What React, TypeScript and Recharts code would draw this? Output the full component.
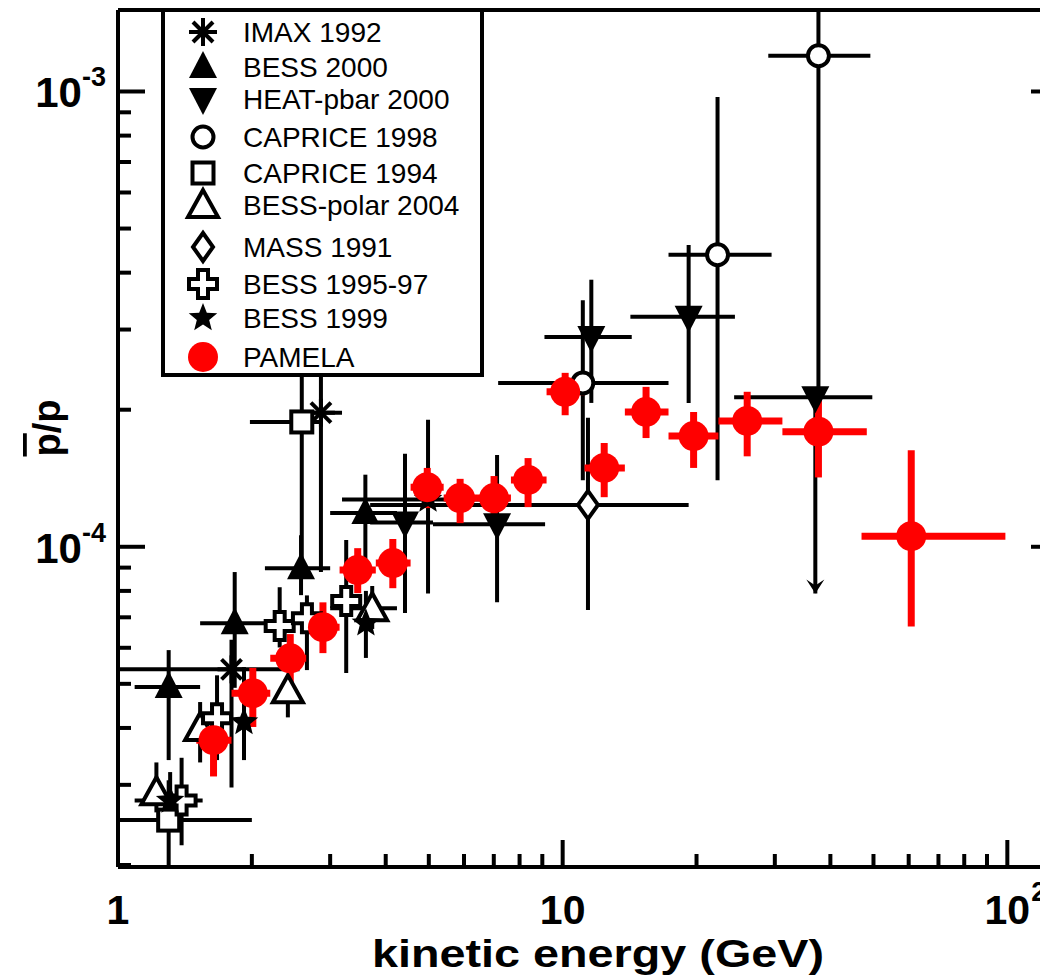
import React from "react";
import { ScatterChart, Scatter, XAxis, YAxis, ErrorBar, Legend } from "recharts";

// each point: [E, E low, E high, ratio, ratio low, ratio high]
type Pt = [number, number, number, number, number, number];

const imax1992: Pt[] = [
  [1.8, 1.0, 2.56, 5.38e-5, 2.96e-5, 6.25e-5],
  [2.86, 2.44, 3.19, 1.97e-4, 8.8e-5, 3.5e-4],
];
const bess2000: Pt[] = [
  [1.3, 1.09, 1.53, 4.92e-5, 3.4e-5, 5.93e-5],
  [1.83, 1.53, 2.16, 6.79e-5, 4.9e-5, 8.8e-5],
  [2.58, 2.14, 3.0, 8.97e-5, 7.83e-5, 1.06e-4],
  [3.6, 3.0, 4.24, 1.186e-4, 9.36e-5, 1.44e-4],
];
const heat2000: Pt[] = [
  [4.42, 3.69, 5.11, 1.13e-4, 7.15e-5, 1.6e-4],
  [7.12, 5.11, 9.13, 1.12e-4, 7.55e-5, 1.59e-4],
  [11.6, 9.1, 14.3, 2.89e-4, 2.07e-4, 3.86e-4],
  [19.2, 14.2, 24.4, 3.2e-4, 2.07e-4, 4.6e-4],
  [37.0, 24.3, 49.7, 2.13e-4, 7.9e-5, 2.13e-4],
];
const heatLimit = [{ e: 37.0, r: 7.9e-5 }];
const caprice1998: Pt[] = [
  [11.1, 7.16, 17.3, 2.29e-4, 1.4e-4, 3.48e-4],
  [22.3, 17.3, 29.5, 4.38e-4, 1.4e-4, 9.73e-4],
  [37.6, 29.0, 49.2, 1.198e-3, 2.1e-4, 1.51e-3],
];
const caprice1994: Pt[] = [
  [1.3, 1.0, 2.0, 2.51e-5, 1.98e-5, 3.07e-5],
  [2.59, 1.98, 2.85, 1.88e-4, 9.3e-5, 4e-4],
];
const bessPolar2004: Pt[] = [
  [1.22, 1.22, 1.22, 2.89e-5, 2.61e-5, 3.36e-5],
  [1.53, 1.53, 1.53, 4.0e-5, 3.36e-5, 4.56e-5],
  [2.41, 2.41, 2.41, 4.84e-5, 4.22e-5, 5.19e-5],
  [3.73, 3.0, 4.24, 7.33e-5, 6.6e-5, 8.2e-5],
];
const mass1991: Pt[] = [[11.4, 3.69, 19.2, 1.236e-4, 7.26e-5, 1.92e-4]];
const bess9597: Pt[] = [
  [1.39, 1.09, 1.55, 2.77e-5, 2.21e-5, 3.44e-5],
  [1.67, 1.67, 1.67, 4.2e-5, 3.4e-5, 5.22e-5],
  [2.31, 2.31, 2.31, 6.7e-5, 6.01e-5, 8.15e-5],
  [2.66, 2.66, 2.66, 6.97e-5, 5.36e-5, 7.82e-5],
  [3.26, 3.26, 3.26, 7.6e-5, 5.28e-5, 1.035e-4],
];
const bess1999: Pt[] = [
  [1.31, 1.31, 1.31, 2.77e-5, 2.4e-5, 3.2e-5],
  [1.92, 1.92, 1.92, 4.12e-5, 3.4e-5, 5.44e-5],
  [3.61, 3.61, 3.61, 6.79e-5, 5.7e-5, 8.0e-5],
  [4.98, 3.19, 7.6, 1.27e-4, 7.9e-5, 1.9e-4],
];
const pamela: Pt[] = [
  [1.64, 1.5, 1.8, 3.76e-5, 3.13e-5, 4.33e-5],
  [2.01, 1.8, 2.2, 4.77e-5, 4.02e-5, 5.42e-5],
  [2.44, 2.2, 2.65, 5.69e-5, 4.91e-5, 6.43e-5],
  [2.89, 2.65, 3.15, 6.66e-5, 5.84e-5, 7.55e-5],
  [3.46, 3.15, 3.8, 8.89e-5, 7.91e-5, 9.93e-5],
  [4.15, 3.8, 4.55, 9.21e-5, 8.11e-5, 1.04e-4],
  [4.96, 4.55, 5.4, 1.352e-4, 1.216e-4, 1.49e-4],
  [5.88, 5.4, 6.45, 1.279e-4, 1.127e-4, 1.41e-4],
  [7.01, 6.45, 7.65, 1.279e-4, 1.116e-4, 1.43e-4],
  [8.36, 7.65, 9.2, 1.402e-4, 1.222e-4, 1.566e-4],
  [10.13, 9.2, 11.2, 2.19e-4, 1.945e-4, 2.41e-4],
  [12.4, 11.2, 13.8, 1.49e-4, 1.285e-4, 1.69e-4],
  [15.4, 13.8, 17.3, 1.977e-4, 1.733e-4, 2.245e-4],
  [19.7, 17.3, 22.4, 1.75e-4, 1.49e-4, 1.977e-4],
  [26.0, 22.4, 31.2, 1.89e-4, 1.58e-4, 2.19e-4],
  [37.6, 31.2, 48.3, 1.79e-4, 1.42e-4, 2.13e-4],
  [60.8, 47.0, 99.0, 1.055e-4, 6.68e-5, 1.63e-4],
];

const xTicks = [1, 2, 3, 4, 5, 6, 7, 8, 9, 10, 20, 30, 40, 50, 60, 70, 80, 90, 100];
const yTicks = [
  2e-5, 3e-5, 4e-5, 5e-5, 6e-5, 7e-5, 8e-5, 9e-5,
  1e-4, 2e-4, 3e-4, 4e-4, 5e-4, 6e-4, 7e-4, 8e-4, 9e-4, 1e-3,
];
const xMajor = [1, 10, 100];
const yMajor = [1e-4, 1e-3];

const series = [
  { name: "IMAX 1992", kind: "asterisk", pts: imax1992 },
  { name: "BESS 2000", kind: "triUp", pts: bess2000 },
  { name: "HEAT-pbar 2000", kind: "triDown", pts: heat2000 },
  { name: "CAPRICE 1998", kind: "circle", pts: caprice1998 },
  { name: "CAPRICE 1994", kind: "square", pts: caprice1994 },
  { name: "BESS-polar 2004", kind: "triOpen", pts: bessPolar2004 },
  { name: "MASS 1991", kind: "diamond", pts: mass1991 },
  { name: "BESS 1995-97", kind: "plus", pts: bess9597 },
  { name: "BESS 1999", kind: "star", pts: bess1999 },
  { name: "PAMELA", kind: "dot", pts: pamela },
];

const FONT = "'Liberation Sans', Arial, Helvetica, sans-serif";

const toRows = (pts: Pt[]) =>
  pts.map(([e, eLo, eHi, r, rLo, rHi]) => ({
    e,
    r,
    ex: [e - eLo, eHi - e],
    ey: [r - rLo, rHi - r],
  }));

function Marker({ kind, cx, cy }: { kind: string; cx: number; cy: number }) {
  const k = "#000";
  switch (kind) {
    case "asterisk": {
      const r = 14;
      const d = 10;
      return (
        <g stroke={k} strokeWidth={4}>
          <line x1={cx - r} y1={cy} x2={cx + r} y2={cy} />
          <line x1={cx} y1={cy - r} x2={cx} y2={cy + r} />
          <line x1={cx - d} y1={cy - d} x2={cx + d} y2={cy + d} />
          <line x1={cx - d} y1={cy + d} x2={cx + d} y2={cy - d} />
        </g>
      );
    }
    case "triUp":
      return <polygon points={`${cx},${cy - 16} ${cx - 14},${cy + 11} ${cx + 14},${cy + 11}`} fill={k} />;
    case "triDown":
      return <polygon points={`${cx},${cy + 16} ${cx - 14},${cy - 11} ${cx + 14},${cy - 11}`} fill={k} />;
    case "circle":
      return <circle cx={cx} cy={cy} r={10.5} fill="#fff" stroke={k} strokeWidth={4} />;
    case "square":
      return <rect x={cx - 10.5} y={cy - 10.5} width={21} height={21} fill="#fff" stroke={k} strokeWidth={4} />;
    case "triOpen":
      return (
        <polygon
          points={`${cx},${cy - 15} ${cx - 15},${cy + 12} ${cx + 15},${cy + 12}`}
          fill="#fff"
          stroke={k}
          strokeWidth={4}
        />
      );
    case "diamond":
      return (
        <polygon
          points={`${cx},${cy - 14} ${cx + 10},${cy} ${cx},${cy + 14} ${cx - 10},${cy}`}
          fill="#fff"
          stroke={k}
          strokeWidth={4}
        />
      );
    case "plus": {
      const a = 5;
      const r = 14;
      const p = [
        [-a, -r], [a, -r], [a, -a], [r, -a], [r, a], [a, a],
        [a, r], [-a, r], [-a, a], [-r, a], [-r, -a], [-a, -a],
      ]
        .map(([x, y]) => `${cx + x},${cy + y}`)
        .join(" ");
      return <polygon points={p} fill="#fff" stroke={k} strokeWidth={4} />;
    }
    case "star": {
      const pts: string[] = [];
      for (let i = 0; i < 10; i++) {
        const rad = i % 2 === 0 ? 15 : 6.5;
        const ang = -Math.PI / 2 + (i * Math.PI) / 5;
        pts.push(`${cx + rad * Math.cos(ang)},${cy + rad * Math.sin(ang)}`);
      }
      return <polygon points={pts.join(" ")} fill={k} />;
    }
    case "dot":
      return <circle cx={cx} cy={cy} r={15} fill="#ff0000" />;
    case "arrow":
      return <polygon points={`${cx},${cy} ${cx - 9},${cy - 14} ${cx},${cy - 8} ${cx + 9},${cy - 14}`} fill={k} />;
    default:
      return null;
  }
}

const legendRowsY = [24, 59, 91, 129, 165, 197, 239, 276, 310, 349];

function LegendBox() {
  return (
    <svg width={323} height={369} style={{ display: "block" }}>
      <rect x={2} y={2} width={319} height={365} fill="#fff" stroke="#000" strokeWidth={4} />
      {series.map((s, i) => {
        const y = legendRowsY[i];
        return (
          <g key={s.name}>
            <Marker kind={s.kind} cx={42} cy={y} />
            <text x={82} y={y + 10} fontSize={28} fontFamily={FONT} fill="#000">
              {s.name}
            </text>
          </g>
        );
      })}
    </svg>
  );
}

function BottomTick({ x, y, payload }: any) {
  const v = payload.value;
  const major = xMajor.includes(v);
  return (
    <g>
      <line x1={x} x2={x} y1={y} y2={y - (major ? 27 : 13)} stroke="#000" strokeWidth={4} />
      {major && (
        <text x={x} y={y + 57} textAnchor="middle" fontSize={41} fontWeight="bold" fontFamily={FONT} fill="#000">
          {v === 1 ? "1" : "10"}
        </text>
      )}
      {v === 100 && (
        <text x={x + 24} y={y + 34} fontSize={27} fontWeight="bold" fontFamily={FONT} fill="#000">
          2
        </text>
      )}
    </g>
  );
}

function TopTick({ x, y, payload }: any) {
  const major = xMajor.includes(payload.value);
  return <line x1={x} x2={x} y1={y} y2={y + (major ? 27 : 13)} stroke="#000" strokeWidth={4} />;
}

function LeftTick({ x, y, payload }: any) {
  const v = payload.value;
  const major = yMajor.includes(v);
  return (
    <g>
      <line x1={x} x2={x + (major ? 27 : 13)} y1={y} y2={y} stroke="#000" strokeWidth={4} />
      {major && (
        <text x={x - 12} y={y + 16} textAnchor="end" fontSize={42} fontWeight="bold" fontFamily={FONT} fill="#000">
          10
          <tspan dy={-21} fontSize={27}>
            {v === 1e-3 ? "-3" : "-4"}
          </tspan>
        </text>
      )}
    </g>
  );
}

function RightTick({ x, y, payload }: any) {
  const major = yMajor.includes(payload.value);
  return <line x1={x} x2={x - (major ? 27 : 13)} y1={y} y2={y} stroke="#000" strokeWidth={4} />;
}

const XTitle = () => (
  <text
    x={590}
    y={959}
    textAnchor="middle"
    fontSize={39}
    fontWeight="bold"
    fontFamily={FONT}
    fill="#000"
    textLength={452}
    lengthAdjust="spacingAndGlyphs"
  >
    kinetic energy (GeV)
  </text>
);

const YTitle = () => (
  <text
    transform="translate(52,420) rotate(-90)"
    textAnchor="middle"
    fontSize={38}
    fontWeight="bold"
    fontFamily={FONT}
    fill="#000"
  >
    <tspan style={{ textDecoration: "overline" }}>p</tspan>/p
  </text>
);

export default function App() {
  const axisLine = { stroke: "#000", strokeWidth: 4 };
  return (
    <div style={{ width: 1040, height: 967, overflow: "hidden", position: "relative", background: "#fff" }}>
      <ScatterChart width={1060} height={967} margin={{ top: 0, right: 0, bottom: 0, left: 0 }}>
        <XAxis
          xAxisId="b"
          dataKey="e"
          type="number"
          scale="log"
          domain={[1, 130]}
          allowDataOverflow
          ticks={xTicks}
          interval={0}
          tick={<BottomTick />}
          tickLine={false}
          tickSize={0}
          tickMargin={0}
          axisLine={axisLine}
          height={108}
          label={<XTitle />}
        />
        <XAxis
          xAxisId="t"
          orientation="top"
          type="number"
          scale="log"
          domain={[1, 130]}
          allowDataOverflow
          ticks={xTicks}
          interval={0}
          tick={<TopTick />}
          tickLine={false}
          tickSize={0}
          tickMargin={0}
          axisLine={axisLine}
          height={2}
        />
        <YAxis
          yAxisId="l"
          dataKey="r"
          type="number"
          scale="log"
          domain={[1.98e-5, 1.51e-3]}
          allowDataOverflow
          ticks={yTicks}
          interval={0}
          tick={<LeftTick />}
          tickLine={false}
          tickSize={0}
          tickMargin={0}
          axisLine={axisLine}
          width={110}
          label={<YTitle />}
        />
        <YAxis
          yAxisId="r"
          orientation="right"
          type="number"
          scale="log"
          domain={[1.98e-5, 1.51e-3]}
          allowDataOverflow
          ticks={yTicks}
          interval={0}
          tick={<RightTick />}
          tickLine={false}
          tickSize={0}
          tickMargin={0}
          axisLine={axisLine}
          width={10}
        />
        {series.map((s) => {
          const red = s.kind === "dot";
          const col = red ? "#ff0000" : "#000";
          const w = red ? 7 : 4;
          return (
            <Scatter
              key={s.name}
              name={s.name}
              data={toRows(s.pts)}
              xAxisId="b"
              yAxisId="l"
              fill={col}
              isAnimationActive={false}
              shape={(p: any) => <Marker kind={s.kind} cx={p.cx} cy={p.cy} />}
            >
              <ErrorBar dataKey="ex" direction="x" width={0} stroke={col} strokeWidth={w} isAnimationActive={false} />
              <ErrorBar dataKey="ey" direction="y" width={0} stroke={col} strokeWidth={w} isAnimationActive={false} />
            </Scatter>
          );
        })}
        <Scatter
          name="HEAT limit"
          data={heatLimit}
          xAxisId="b"
          yAxisId="l"
          legendType="none"
          isAnimationActive={false}
          shape={(p: any) => <Marker kind="arrow" cx={p.cx} cy={p.cy} />}
        />
        <Legend
          layout="vertical"
          align="center"
          verticalAlign="middle"
          content={() => <LegendBox />}
          wrapperStyle={{ left: 153, top: 0, width: 323, height: 369 }}
        />
      </ScatterChart>
    </div>
  );
}
